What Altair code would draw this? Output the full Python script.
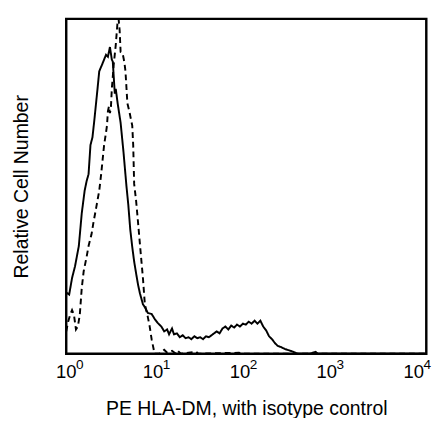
import altair as alt
import pandas as pd

# log10 fluorescence intensity and relative cell count (stained sample, solid line)
stain_log = [0.000, 0.034, 0.067, 0.101, 0.145, 0.179, 0.212, 0.235, 0.257, 0.279,
             0.302, 0.324, 0.358, 0.380, 0.413, 0.458, 0.480, 0.503, 0.525, 0.536,
             0.559, 0.570, 0.592, 0.626, 0.659, 0.693, 0.715, 0.737, 0.760, 0.782,
             0.804, 0.827, 0.849, 0.883, 0.905, 0.939, 0.983, 1.017, 1.050, 1.095,
             1.128, 1.162, 1.184, 1.218, 1.240, 1.274, 1.307, 1.341, 1.374, 1.408,
             1.441, 1.475, 1.508, 1.542, 1.575, 1.609, 1.642, 1.687, 1.732, 1.765,
             1.799, 1.832, 1.866, 1.899, 1.933, 1.966, 2.000, 2.034, 2.067, 2.101,
             2.134, 2.168, 2.201, 2.235, 2.268, 2.302, 2.335, 2.369, 2.402, 2.436,
             2.469, 2.514, 2.547, 2.581, 2.615, 2.659, 2.804, 2.872, 2.894, 4.140]
stain_count = [63, 61, 78, 90, 111, 145, 168, 178, 185, 215,
               223, 241, 271, 291, 298, 308, 306, 316, 303, 301,
               268, 273, 258, 238, 208, 173, 153, 128, 110, 95,
               83, 71, 62, 51, 48, 42, 41, 36, 32, 28,
               23, 25, 20, 26, 20, 21, 17, 19, 16, 17,
               15, 18, 16, 17, 15, 18, 17, 20, 23, 21,
               26, 28, 25, 29, 27, 30, 28, 31, 30, 33,
               31, 34, 31, 34, 28, 24, 18, 15, 11, 8,
               7, 5, 4, 3, 2, 0, 0, 2, 0, 0]

# isotype control (dashed line)
iso_log = [0.000, 0.022, 0.045, 0.067, 0.089, 0.112, 0.134, 0.156, 0.179, 0.201,
           0.235, 0.257, 0.291, 0.313, 0.346, 0.380, 0.402, 0.436, 0.458, 0.469,
           0.480, 0.492, 0.503, 0.514, 0.525, 0.547, 0.570, 0.592, 0.603, 0.615,
           0.626, 0.648, 0.670, 0.682, 0.704, 0.726, 0.760, 0.771, 0.782, 0.804,
           0.827, 0.860, 0.883, 0.905, 0.939, 0.961, 0.983, 1.017, 1.073, 1.128,
           1.162, 1.218, 1.263, 1.285, 1.318, 1.497, 1.520, 1.989, 2.020, 4.140]
iso_count = [23, 33, 40, 45, 40, 25, 28, 40, 68, 85,
             100, 111, 123, 135, 151, 168, 185, 215, 228, 235,
             250, 255, 248, 253, 273, 298, 318, 343, 345, 333,
             311, 310, 300, 291, 258, 250, 235, 215, 175, 158,
             135, 101, 78, 51, 38, 28, 15, 0, 0, 4,
             1, 3, 0, 3, 0, 2, 0, 1, 0, 0]

tick_values = [1, 10, 100, 1000, 10000]
tick_base = ["10", "10", "10", "10", "10"]
tick_exponents = ["0", "1", "2", "3", "4"]

rows = []
for lg, c in zip(stain_log, stain_count):
    rows.append({"intensity": 10 ** lg, "count": c, "sample": "HLA-DM", "order": len(rows)})
for lg, c in zip(iso_log, iso_count):
    rows.append({"intensity": 10 ** lg, "count": c, "sample": "Isotype", "order": len(rows)})
df = pd.DataFrame(rows)

ticks_df = pd.DataFrame({"intensity": tick_values, "base": tick_base,
                         "exp": tick_exponents})

FONT = "Liberation Sans"
xscale = alt.Scale(type="log", domain=[1, 13970], nice=False)

lines = alt.Chart(df).mark_line(color="black", strokeWidth=2, clip=True).encode(
    x=alt.X("intensity:Q", scale=xscale,
            axis=alt.Axis(values=tick_values, labels=False, grid=False,
                          ticks=False, domain=False,
                          title="PE HLA-DM, with isotype control",
                          titleFont=FONT, titleFontSize=20,
                          titleFontWeight="normal", titleColor="black",
                          titlePadding=47)),
    y=alt.Y("count:Q",
            scale=alt.Scale(domain=[0, 345], nice=False, zero=True),
            axis=alt.Axis(labels=False, ticks=False, grid=False, domain=False,
                          title="Relative Cell Number",
                          titleFont=FONT, titleFontSize=20,
                          titleFontWeight="normal", titleColor="black",
                          titlePadding=36)),
    strokeDash=alt.StrokeDash("sample:N",
                              scale=alt.Scale(domain=["HLA-DM", "Isotype"],
                                              range=[[1, 0], [6, 4]]),
                              legend=None),
    order="order:Q",
)

base_labels = alt.Chart(ticks_df).mark_text(
    font=FONT, fontSize=19, color="black", align="center", baseline="top"
).encode(
    x=alt.X("intensity:Q", scale=xscale),
    y=alt.value(355),
    text="base:N",
)

exp_labels = alt.Chart(ticks_df).mark_text(
    font=FONT, fontSize=14, color="black", align="left", baseline="top", dx=10
).encode(
    x=alt.X("intensity:Q", scale=xscale),
    y=alt.value(350),
    text="exp:N",
)

chart = alt.layer(lines, base_labels, exp_labels).properties(
    width=371, height=345,
    autosize=alt.AutoSizeParams(type="none"),
    padding={"left": 60, "top": 5, "right": 10, "bottom": 60},
).configure_view(
    stroke="black", strokeWidth=2.5
)

chart.save("out.html", embed_options={"renderer": "svg", "actions": False})
